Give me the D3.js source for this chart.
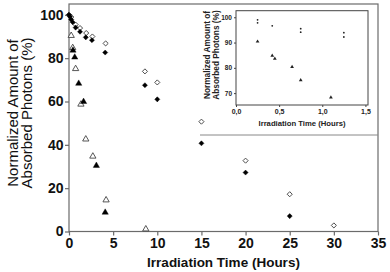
<!DOCTYPE html>
<html>
<head>
<meta charset="utf-8">
<script src="https://cdn.jsdelivr.net/npm/d3@7"></script>
<style>
  body { margin: 0; background: #fff; }
  svg { display: block; font-family: "Liberation Sans", Arial, sans-serif; }
</style>
</head>
<body>
<div id="chart"></div>
<script>
// series (time in hours, normalized %)
const openDiamondT = [0, 0.25, 0.75, 1.25, 1.95, 2.65, 4.15, 8.6, 10, 15, 20, 25, 30];
const openDiamondV = [100, 99, 95.5, 93.9, 91.6, 90, 86.8, 73.9, 68.8, 50.7, 32.7, 17.2, 2.8];
const filledDiamondT = [0, 0.1, 0.25, 0.42, 0.75, 1.25, 1.9, 2.6, 4.1, 8.6, 10, 15, 20, 25];
const filledDiamondV = [100, 99.2, 97.8, 96.6, 94.1, 92.2, 89.6, 88.3, 82.6, 67.5, 61, 40.7, 27.2, 7.1];
const openTriangleT = [0.25, 0.42, 0.75, 1.35, 1.9, 2.7, 4.2, 8.7];
const openTriangleV = [90.4, 84.8, 75.1, 58.7, 42.6, 34.7, 14.5, 1.1];
const filledTriangleT = [0.45, 0.65, 1.1, 1.65, 3.1, 4.1];
const filledTriangleV = [83.6, 80.4, 68.3, 59.9, 30.4, 8.8];

const xTicks = [0, 5, 10, 15, 20, 25, 30, 35];
const yTicks = [0, 20, 40, 60, 80, 100];
const insetXTicks = [0, 0.5, 1.0, 1.5];
const insetYTicks = [70, 80, 90, 100];

const toPoints = (ts, vs) => ts.map((t, i) => ({ t: t, v: vs[i] }));
const series = [
  { kind: "diamond", open: true, pts: toPoints(openDiamondT, openDiamondV) },
  { kind: "diamond", open: false, pts: toPoints(filledDiamondT, filledDiamondV) },
  { kind: "triangle", open: true, pts: toPoints(openTriangleT, openTriangleV) },
  { kind: "triangle", open: false, pts: toPoints(filledTriangleT, filledTriangleV) }
];

const W = 390, H = 272;
const svg = d3.select("#chart").append("svg").attr("width", W).attr("height", H);

const axisColor = "#6b6b6b";

// main plot
const m = { left: 69, right: 378, top: 4, bottom: 231.5 };
const x = d3.scaleLinear().domain([0, 35]).range([m.left, m.right]);
const y = d3.scaleLinear().domain([0, 105]).range([m.bottom, m.top]);

// frame
svg.append("rect")
  .attr("x", m.left).attr("y", m.top)
  .attr("width", m.right - m.left).attr("height", m.bottom - m.top)
  .attr("fill", "none").attr("stroke", axisColor).attr("stroke-width", 1.2);

// minor ticks
const gx = svg.append("g").attr("transform", `translate(0,${m.bottom})`);
gx.call(d3.axisBottom(x).tickValues(d3.range(2.5, 35, 5)).tickSize(2.5).tickFormat(""));
gx.call(d3.axisBottom(x).tickValues(xTicks).tickSize(4).tickPadding(3).tickFormat(d3.format("d")));
gx.select(".domain").remove();
gx.selectAll("line").attr("stroke", axisColor).attr("stroke-width", 1.2);
gx.selectAll("text").attr("font-size", 14).attr("font-weight", "bold").attr("fill", "#111");

const gy = svg.append("g").attr("transform", `translate(${m.left},0)`);
gy.call(d3.axisLeft(y).tickValues(d3.range(10, 105, 20)).tickSize(2.5).tickFormat(""));
gy.call(d3.axisLeft(y).tickValues(yTicks).tickSize(4).tickPadding(1.5).tickFormat(d3.format("d")));
gy.select(".domain").remove();
gy.selectAll("line").attr("stroke", axisColor).attr("stroke-width", 1.2);
gy.selectAll("text").attr("font-size", 14).attr("font-weight", "bold").attr("fill", "#111");

// axis titles
svg.append("text")
  .attr("x", (m.left + m.right) / 2).attr("y", 266.5)
  .attr("text-anchor", "middle").attr("font-size", 13.5).attr("font-weight", "bold")
  .attr("fill", "#111").text("Irradiation Time (Hours)");

const yTitle = svg.append("text")
  .attr("transform", `translate(0,113) rotate(-90)`)
  .attr("text-anchor", "middle").attr("font-size", 15).attr("fill", "#111");
yTitle.append("tspan").attr("x", 0).attr("y", 17.5).text("Normalized Amount of");
yTitle.append("tspan").attr("x", 0).attr("y", 31.5).text("Absorbed Photons (%)");

// marker paths
const diamondPath = d3.symbol().type(d3.symbolSquare).size(13)();
const trianglePath = d3.symbol().type(d3.symbolTriangle).size(17)();

series.forEach(s => {
  svg.append("g").selectAll("path")
    .data(s.pts)
    .enter()
    .append("path")
    .attr("d", s.kind === "diamond" ? diamondPath : trianglePath)
    .attr("transform", d => `translate(${x(d.t)},${y(d.v)})` + (s.kind === "diamond" ? " rotate(45)" : ""))
    .attr("fill", s.open ? "#fff" : "#000")
    .attr("stroke", s.open ? "#444" : "#000")
    .attr("stroke-width", s.open ? 0.9 : 0.4);
});

// inset
const ib = { left: 236, right: 368, top: 10.7, bottom: 105 };
const ix = d3.scaleLinear().domain([0, 1.53]).range([ib.left, ib.right]);
const iy = d3.scaleLinear().domain([65.3, 102.6]).range([ib.bottom, ib.top]);

svg.append("line")
  .attr("x1", 200).attr("x2", m.right).attr("y1", 135).attr("y2", 135)
  .attr("stroke", "#888").attr("stroke-width", 1);

svg.append("rect")
  .attr("x", ib.left).attr("y", ib.top)
  .attr("width", ib.right - ib.left).attr("height", ib.bottom - ib.top)
  .attr("fill", "none").attr("stroke", "#444").attr("stroke-width", 1);

const comma = d => d3.format(".1f")(d).replace(".", ",");
const igx = svg.append("g").attr("transform", `translate(0,${ib.bottom})`);
igx.call(d3.axisBottom(ix).tickValues(insetXTicks).tickSize(2).tickPadding(2).tickFormat(comma));
igx.select(".domain").remove();
igx.selectAll("line").attr("stroke", "#444");
igx.selectAll("text").attr("font-size", 7).attr("font-weight", "bold").attr("fill", "#222");

const igy = svg.append("g").attr("transform", `translate(${ib.left},0)`);
igy.call(d3.axisLeft(iy).tickValues(insetYTicks).tickSize(2).tickPadding(2).tickFormat(d3.format("d")));
igy.select(".domain").remove();
igy.selectAll("line").attr("stroke", "#444");
igy.selectAll("text").attr("font-size", 6.5).attr("font-weight", "bold").attr("fill", "#222");

svg.append("text")
  .attr("x", (ib.left + ib.right) / 2).attr("y", 126)
  .attr("text-anchor", "middle").attr("font-size", 7.7).attr("font-weight", "bold")
  .attr("fill", "#222").text("Irradiation Time (Hours)");

const iyTitle = svg.append("text")
  .attr("transform", `translate(0,55) rotate(-90)`)
  .attr("text-anchor", "middle").attr("font-size", 8.3).attr("font-weight", "bold").attr("fill", "#222");
iyTitle.append("tspan").attr("x", 0).attr("y", 210).text("Normalized Amount of");
iyTitle.append("tspan").attr("x", 0).attr("y", 219).text("Absorbed Photons (%)");

const insetTri = d3.symbol().type(d3.symbolTriangle).size(6)();
series.forEach(s => {
  const pts = s.pts.filter(d => d.t >= 0.2 && d.t <= 1.3 && d.v >= 66);
  const g = svg.append("g");
  if (s.kind === "diamond") {
    g.selectAll("circle").data(pts).enter().append("circle")
      .attr("cx", d => ix(d.t)).attr("cy", d => iy(d.v)).attr("r", 0.9)
      .attr("fill", "#222");
  } else {
    g.selectAll("path").data(pts).enter().append("path")
      .attr("d", insetTri)
      .attr("transform", d => `translate(${ix(d.t)},${iy(d.v)})`)
      .attr("fill", "#222");
  }
});
</script>
</body>
</html>
